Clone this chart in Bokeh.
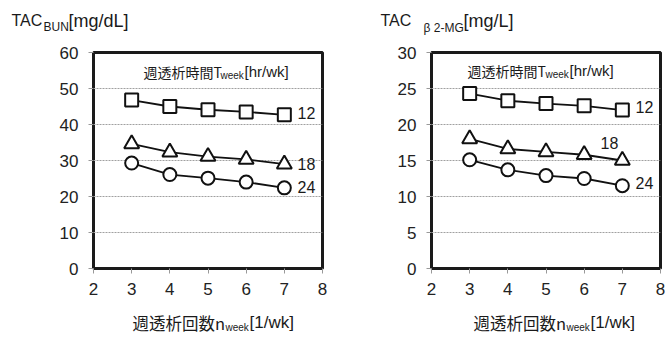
from bokeh.plotting import figure
from bokeh.layouts import row, column
from bokeh.models import Label, FixedTicker
from bokeh.embed import file_html
from bokeh.resources import INLINE

# ---------------- data ----------------
n_week = [3, 4, 5, 6, 7]
t_week_labels = ["12", "18", "24"]

bun_12 = [46.8, 45.0, 44.1, 43.5, 42.7]
bun_18 = [34.6, 32.3, 31.1, 30.3, 29.0]
bun_24 = [29.3, 26.1, 25.1, 24.0, 22.4]

b2mg_12 = [24.3, 23.3, 22.9, 22.6, 22.0]
b2mg_18 = [18.0, 16.6, 16.2, 15.8, 15.0]
b2mg_24 = [15.1, 13.7, 12.9, 12.5, 11.5]

x_ticks = [2, 3, 4, 5, 6, 7, 8]
bun_ticks = [0, 10, 20, 30, 40, 50, 60]
b2mg_ticks = [0, 5, 10, 15, 20, 25, 30]

CJK = "Noto Sans CJK JP"
LAT = "Liberation Sans"
TXT = "#1a1a1a"

# page layout (pixels): title strip 0..40, charts 40..305, x-label strip 305..338
TOP_H, MAIN_H, BOT_H = 40, 265, 33
FRAME_TOP, FRAME_BOTTOM = 52, 268


def add_texts(p, texts, x0, y_bottom):
    # texts: (text, page_x_left, page_y_center, size, font); screen units are
    # relative to the frame's bottom-left corner
    for txt, px, py, size, font in texts:
        p.add_layout(Label(x=px - x0, y=y_bottom - py, x_units="screen", y_units="screen",
                           text=txt, text_font=font, text_font_size=f"{size}px",
                           text_color=TXT, text_align="left", text_baseline="middle"))


def text_strip(width, height, texts, y_bottom):
    p = figure(width=width, height=height, x_range=(0, 1), y_range=(0, 1),
               x_axis_type=None, y_axis_type=None, output_backend="svg",
               toolbar_location=None, min_border=0)
    p.outline_line_color = None
    p.background_fill_color = "white"
    p.border_fill_color = "white"
    p.xgrid.grid_line_color = None
    p.ygrid.grid_line_color = None
    add_texts(p, texts, 0, y_bottom)
    return p


def make_chart(width, border_left, border_right, y_max, y_ticks, series,
               page_left, texts):
    p = figure(width=width, height=MAIN_H, x_range=(2, 8), y_range=(0, y_max),
               output_backend="svg", toolbar_location=None,
               min_border_left=border_left, min_border_right=border_right,
               min_border_top=FRAME_TOP - TOP_H, min_border_bottom=TOP_H + MAIN_H - FRAME_BOTTOM)
    p.background_fill_color = "white"
    p.border_fill_color = "white"
    p.outline_line_color = "#1a1a1a"
    p.outline_line_width = 3

    p.xgrid.grid_line_color = None
    p.ygrid.grid_line_color = "#a0a0a0"
    p.ygrid.grid_line_dash = "2 1"
    p.ygrid.grid_line_width = 1

    p.xaxis.ticker = FixedTicker(ticks=x_ticks)
    p.yaxis.ticker = FixedTicker(ticks=y_ticks)
    for ax in (p.xaxis[0], p.yaxis[0]):
        ax.axis_line_color = None
        ax.major_tick_line_color = "#999999"
        ax.major_tick_in = 0
        ax.major_tick_out = 5
        ax.minor_tick_line_color = None
        ax.major_label_text_font = LAT
        ax.major_label_text_font_size = "17px"
        ax.major_label_text_color = "#222222"
    p.xaxis.major_label_standoff = 9
    p.yaxis.major_label_standoff = 10

    markers = ["square", "triangle", "circle"]
    sizes = [13, 15, 13]
    for ys, mk, sz in zip(series, markers, sizes):
        p.line(n_week, ys, line_color="#111111", line_width=1.8)
        p.scatter(n_week, ys, marker=mk, size=sz, fill_color="white",
                  line_color="#111111", line_width=2)

    add_texts(p, texts, page_left + border_left, FRAME_BOTTOM)
    return p


title_texts = [
    ("TAC", 11, 20, 16, LAT), ("BUN", 43, 26, 12, LAT), ("[mg/dL]", 68, 20, 18, LAT),
    ("TAC", 380, 20, 16, LAT), ("β 2-MG", 423, 27, 12, LAT), ("[mg/L]", 463, 20, 18, LAT),
]
xlabel_texts = [
    ("週透析回数n", 132, 322, 16.5, CJK), ("week", 225, 327, 10, LAT), ("[1/wk]", 249, 322, 17, LAT),
    ("週透析回数n", 473, 322, 16.5, CJK), ("week", 566, 327, 10, LAT), ("[1/wk]", 590, 322, 17, LAT),
]
left_texts = [
    ("週透析時間T", 143, 71, 14, CJK), ("week", 220, 75, 10, LAT), ("[hr/wk]", 244, 71, 15, LAT),
    (t_week_labels[0], 297, 112, 16, LAT), (t_week_labels[1], 297, 163, 16, LAT),
    (t_week_labels[2], 297, 186, 16, LAT),
]
right_texts = [
    ("週透析時間T", 467, 70, 14, CJK), ("week", 545, 74, 10, LAT), ("[hr/wk]", 569, 70, 15, LAT),
    (t_week_labels[0], 635, 106, 16, LAT), (t_week_labels[1], 600, 142, 16, LAT),
    (t_week_labels[2], 635, 182, 16, LAT),
]

top = text_strip(665, TOP_H, title_texts, TOP_H)
p1 = make_chart(340, 93, 18, 60, bun_ticks, [bun_12, bun_18, bun_24], 0, left_texts)
p2 = make_chart(325, 91, 5, 30, b2mg_ticks, [b2mg_12, b2mg_18, b2mg_24], 340, right_texts)
bottom = text_strip(665, BOT_H, [(t, x, y - (TOP_H + MAIN_H), s, f) for t, x, y, s, f in xlabel_texts], BOT_H)

layout = column(top, row(p1, p2), bottom)
open("out.html", "w").write(file_html(layout, INLINE))
